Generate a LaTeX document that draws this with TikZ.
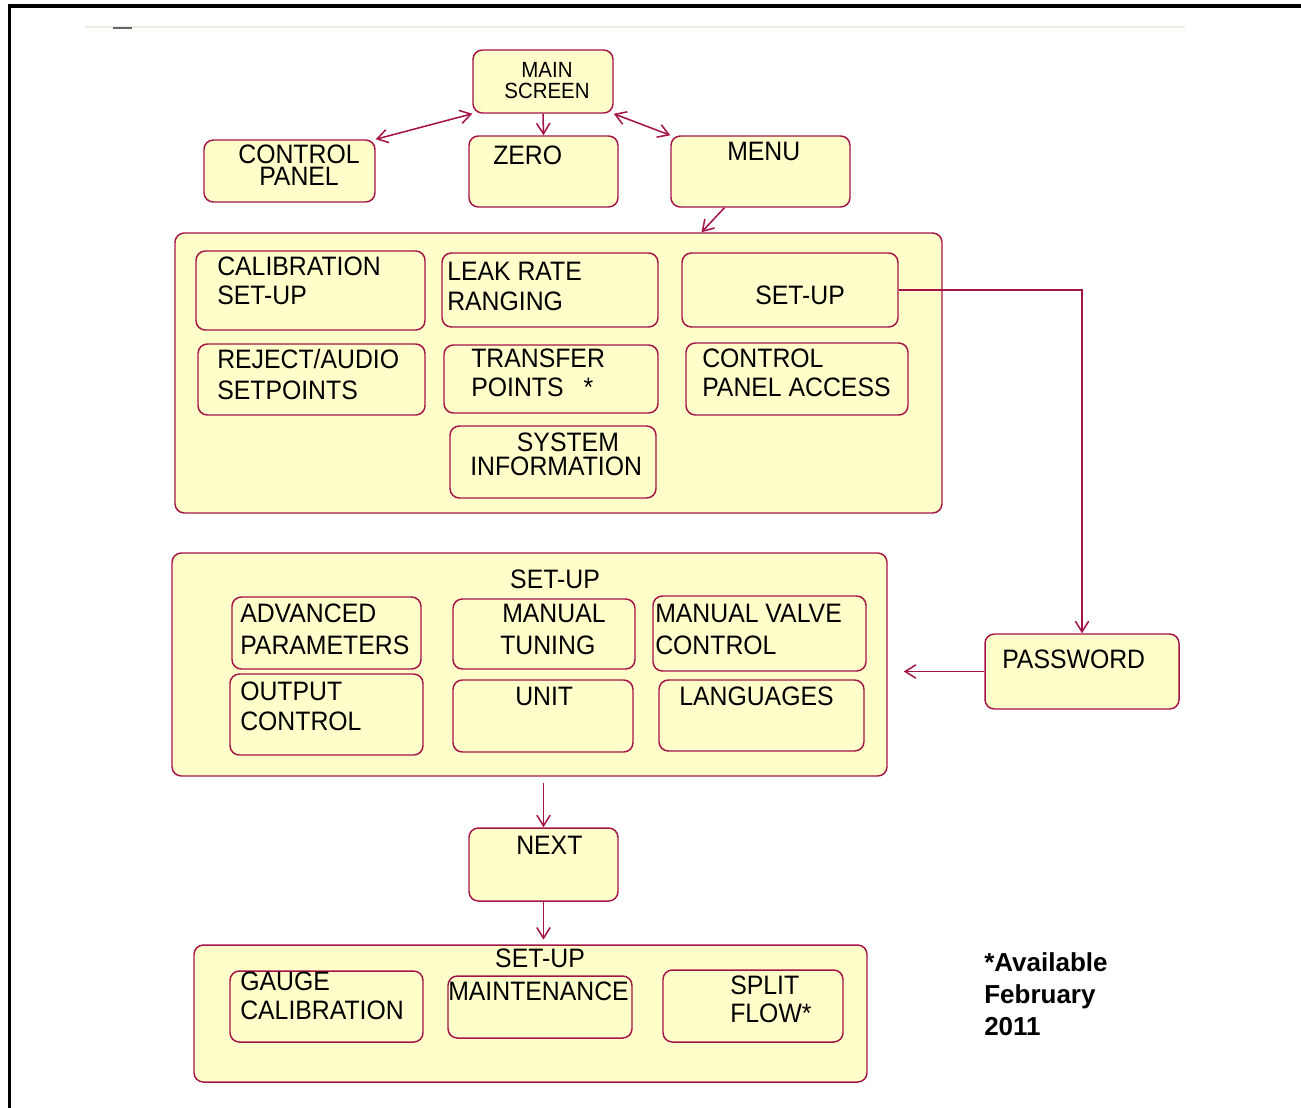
\documentclass[tikz,border=0pt]{standalone}
\usepackage{fontspec}
\setmainfont{Liberation Sans}[FakeStretch=0.93]
\newfontfamily\notefont{Liberation Sans}
\usetikzlibrary{arrows.meta,fit,calc}
\definecolor{edge}{RGB}{165,20,72}
\definecolor{pale}{RGB}{255,253,202}
\definecolor{faint}{RGB}{238,236,226}
\tikzset{
  box/.style={draw=edge, fill=pale, line width=1.1pt, rounded corners=7pt, inner sep=0pt},
  txt/.style={anchor=north west, inner sep=0pt, align=left, font=\fontsize{20}{22}\selectfont},
  ctxt/.style={anchor=north, inner sep=0pt, align=center, font=\fontsize{20}{22}\selectfont},
  tip/.style={-{Straight Barb[length=8pt,width=10pt]}},
  dtip/.style={{Straight Barb[length=8pt,width=10pt]}-{Straight Barb[length=8pt,width=10pt]}},
  conn/.style={draw=edge, line width=1.15pt},
}
\begin{document}
\begin{tikzpicture}[x=0.75pt,y=-0.75pt]
\useasboundingbox (0,0) rectangle (1301,1107);
% page frame and header rule
\draw[line width=2.4pt] (9.5,1110) -- (9.5,6) -- (1305,6);
\draw[faint, line width=1.5pt] (85,27) -- (1185,27);
\draw[black!60, line width=1.5pt] (113,27.5) -- (132,27.5);

% top level
\node[box, fit={(473,50) (613,113)}] (main) {};
\node[ctxt, font=\fontsize{16.5}{15.75}\selectfont] (mainT) at (547,62) {MAIN\\SCREEN};
\node[box, fit={(204,140) (375,202)}] (cp) {};
\node[ctxt, font=\fontsize{20}{16.5}\selectfont] (cpT) at (299,145) {CONTROL\\PANEL};
\node[box, fit={(469,136) (618,207)}] (zero) {};
\node[txt] (zeroT) at (493,146) {ZERO};
\node[box, fit={(671,136) (850,207)}] (menu) {};
\node[txt] (menuT) at (727,142) {MENU};

% menu box
\node[box, fit={(175,233) (942,513)}] (b1) {};
\node[box, fit={(196,251) (425,330)}] (cal) {};
\node[txt, font=\fontsize{20}{21.75}\selectfont] (calT) at (217,257) {CALIBRATION\\SET-UP};
\node[box, fit={(442,253) (658,327)}] (leak) {};
\node[txt, font=\fontsize{20}{22.5}\selectfont] (leakT) at (447,262) {LEAK RATE\\RANGING};
\node[box, fit={(682,253) (898,327)}] (su) {};
\node[txt] (suT) at (755,286) {SET-UP};
\node[box, fit={(198,344) (425,415)}] (rej) {};
\node[txt, font=\fontsize{20}{23}\selectfont] (rejT) at (217,349) {REJECT/AUDIO\\SETPOINTS};
\node[box, fit={(444,345) (658,413)}] (tp) {};
\node[txt, font=\fontsize{20}{21.75}\selectfont] (tpT) at (471,349) {TRANSFER\\POINTS\hspace{15pt}*};
\node[box, fit={(686,343) (908,415)}] (cpa) {};
\node[txt, font=\fontsize{20}{21.75}\selectfont] (cpaT) at (702,349) {CONTROL\\PANEL ACCESS};
\node[box, fit={(450,426) (656,498)}] (sys) {};
\node[txt, font=\fontsize{20}{17.75}\selectfont] (sysT) at (470,433) {\hspace*{35pt}SYSTEM\\INFORMATION};

% password
\node[box, fit={(985,634) (1179,709)}] (pw) {};
\node[txt] (pwT) at (1002,650) {PASSWORD};

% set-up box
\node[box, fit={(172,553) (887,776)}] (b2) {};
\node[ctxt] (b2T) at (555,570) {SET-UP};
\node[box, fit={(232,597) (421,669)}] (adv) {};
\node[txt, font=\fontsize{20}{24}\selectfont] (advT) at (240,604) {ADVANCED\\PARAMETERS};
\node[box, fit={(453,599) (635,669)}] (mt) {};
\node[txt, font=\fontsize{20}{24}\selectfont] (mtT) at (500,604) {\hspace*{1.5pt}MANUAL\\TUNING};
\node[box, fit={(653,596) (866,671)}] (mvc) {};
\node[txt, font=\fontsize{20}{24}\selectfont] (mvcT) at (655,604) {MANUAL VALVE\\CONTROL};
\node[box, fit={(230,674) (423,755)}] (out) {};
\node[txt, font=\fontsize{20}{22.5}\selectfont] (outT) at (240,682) {OUTPUT\\CONTROL};
\node[box, fit={(453,680) (633,752)}] (unit) {};
\node[txt] (unitT) at (515,687) {UNIT};
\node[box, fit={(659,680) (864,751)}] (lang) {};
\node[txt] (langT) at (679,687) {LANGUAGES};

% next
\node[box, fit={(469,828) (618,901)}] (next) {};
\node[txt] (nextT) at (516,836) {NEXT};

% set-up box 2
\node[box, fit={(194,945) (867,1082)}] (b3) {};
\node[ctxt] (b3T) at (540,949) {SET-UP};
\node[box, fit={(230,971) (423,1042)}] (gc) {};
\node[txt, font=\fontsize{20}{21.75}\selectfont] (gcT) at (240,972) {GAUGE\\CALIBRATION};
\node[box, fit={(448,976) (632,1038)}] (mnt) {};
\node[txt] (mntT) at (448,982) {MAINTENANCE};
\node[box, fit={(663,970) (843,1042)}] (sf) {};
\node[txt, font=\fontsize{20}{21}\selectfont] (sfT) at (730,976) {SPLIT\\FLOW*};

% note
\node[txt, font=\notefont\fontsize{19.5}{24}\selectfont\bfseries] (note) at (984,952) {*Available\\February\\2011};

% connectors
\draw[conn, dtip] (main.south west) -- (cp.north east);
\draw[conn, dtip] (main.south east) -- (menu.north west);
\draw[conn, tip] (main.south) -- (zero.north);
\draw[conn, tip] ($(menu.south west)!0.3!(menu.south east)$) -- ($(b1.north west)!0.686!(b1.north east)$);
\draw[conn, tip] (su.east) -| (pw.north);
\draw[conn, tip, shorten >=12pt] (pw.west) -- (pw.west -| b2.east);
\draw[conn, tip, shorten <=4.5pt] (next.north |- b2.south) -- (next.north);
\draw[conn, tip, shorten >=3.5pt] (next.south) -- (next.south |- b3.north);
\end{tikzpicture}
\end{document}
